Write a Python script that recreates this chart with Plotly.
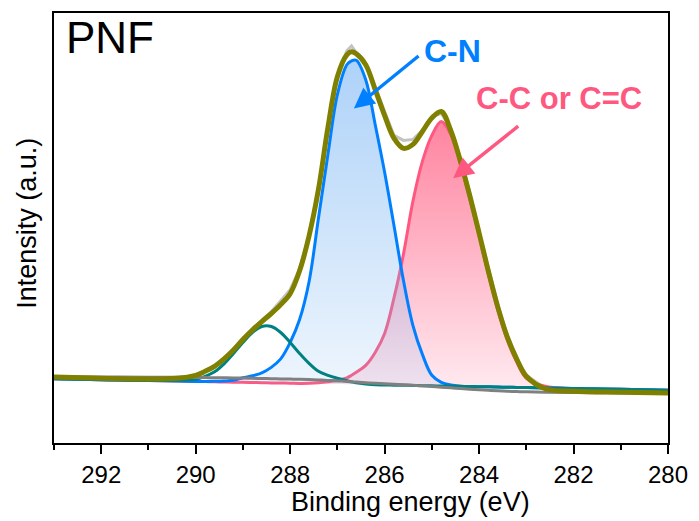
import plotly.graph_objects as go

# Binding energy grid (eV)
energy = [293, 292, 291, 290.4, 290, 289.8, 289.6, 289.4, 289.2, 289.0, 288.8, 288.6, 288.4,
          288.2, 288.0, 287.8, 287.6, 287.4, 287.2, 287.0, 286.8, 286.7, 286.6, 286.4, 286.2,
          286.0, 285.8, 285.6, 285.4, 285.2, 285.0, 284.8, 284.6, 284.4, 284.2, 284.0, 283.8,
          283.6, 283.4, 283.2, 283.0, 282.6, 282.0, 281, 280]

# Raw spectrum (a.u.)
raw = [66.5, 65.8, 64.0, 65.5, 68.0, 72.5, 77.5, 85, 94.5, 105, 114, 123, 132,
       143, 154, 175, 209, 254, 317, 369, 394, 399, 392, 381, 358,
       333, 309, 304, 305, 314, 328, 331, 316, 286, 252, 213, 174,
       138, 108, 85, 68, 55, 52.5, 51, 50.5]

# Fitted envelope
envelope = [66.3, 65.0, 64.3, 65.0, 68, 72, 77, 84.5, 93.5, 104, 113.5, 122, 130,
            139, 150, 173, 208, 255, 317, 368, 390, 393, 391, 380, 355,
            329, 306, 296, 300, 313, 326.5, 333, 314, 284, 249, 211, 172,
            136, 106, 84, 67, 54.5, 52, 51, 50.3]

# Shirley background
background = [66.5, 66.3, 66.0, 66.0, 65.8, 65.7, 65.6, 65.5, 65.4, 65.2, 65.0, 64.8, 64.6,
              64.4, 64.2, 64.0, 63.7, 63.3, 62.9, 62.4, 61.8, 61.5, 61.2, 60.6, 60.0,
              59.5, 59.0, 58.5, 58.0, 57.4, 56.8, 56.1, 55.4, 54.7, 54.0, 53.4, 52.9,
              52.4, 52.0, 51.7, 51.4, 51.0, 50.7, 50.5, 50.3]

# Component baseline
comp_base = [64.5, 63.6, 62.7, 62.2, 61.9, 61.7, 61.5, 61.3, 61.1, 61.0, 60.8, 60.6, 60.4,
             60.3, 60.1, 59.9, 59.7, 59.5, 59.4, 59.2, 59.0, 58.9, 58.8, 58.7, 58.5,
             58.3, 58.1, 58.0, 57.8, 57.6, 57.4, 57.2, 57.1, 56.9, 56.7, 56.5, 56.4,
             56.2, 56.0, 55.8, 55.7, 55.3, 54.8, 53.9, 53.0]

# C-N component
c_n = [64.5, 63.6, 62.7, 62.2, 61.9, 61.9, 62.0, 62.3, 63.0, 65.5, 67.5, 70.5, 76,
       84.5, 101, 124, 162, 226, 290, 350, 380, 384, 384.5, 365, 320,
       272, 218, 163, 118, 89, 68, 61, 58.3, 57.1, 56.7, 56.5, 56.4,
       56.2, 56.0, 55.8, 55.7, 55.3, 54.8, 53.9, 53.0]

# C-C / C=C component
c_c = [64.5, 63.6, 62.7, 62.2, 61.9, 61.7, 61.5, 61.3, 61.1, 61.0, 60.8, 60.6, 60.4,
       60.3, 60.1, 59.9, 60.0, 60.5, 61.5, 63, 65.5, 68, 71, 78, 91,
       110, 146, 190, 243, 283, 309, 323, 310, 281, 246, 208, 169,
       133, 103, 81, 65, 57, 54.8, 53.9, 53.0]

# O-C=O component
o_c_o = [64.5, 63.6, 62.7, 63, 64, 67, 71.5, 79.5, 90, 101, 111, 117, 117,
         111, 101, 90, 80, 72, 68, 65, 62.5, 61.5, 60.5, 59.3, 58.5,
         58.3, 58.1, 58.0, 57.8, 57.6, 57.4, 57.2, 57.1, 56.9, 56.7, 56.5, 56.4,
         56.2, 56.0, 55.8, 55.7, 55.3, 54.8, 53.9, 53.0]

tick_vals = [292, 290, 288, 286, 284, 282, 280]
tick_text = ["292", "290", "288", "286", "284", "282", "280"]
minor_vals = [293, 291, 289, 287, 285, 283, 281]

FONT = "Arial, Liberation Sans, sans-serif"

fig = go.Figure()

fig.add_trace(go.Scatter(x=energy, y=raw, mode="lines",
                         line=dict(color="rgb(195,195,195)", width=3), showlegend=False))

# pink fill
fig.add_trace(go.Scatter(x=energy + energy[::-1], y=c_c + comp_base[::-1], mode="lines",
                         fill="toself", line=dict(width=0, shape="spline"),
                         fillgradient=dict(type="vertical",
                                           colorscale=[[0, "rgb(255,234,240)"], [1, "rgb(255,132,160)"]]),
                         showlegend=False, hoverinfo="skip"))
fig.add_trace(go.Scatter(x=energy, y=c_c, mode="lines",
                         line=dict(color="rgb(255,88,128)", width=3, shape="spline"), showlegend=False))

# blue fill
fig.add_trace(go.Scatter(x=energy + energy[::-1], y=c_n + comp_base[::-1], mode="lines",
                         fill="toself", line=dict(width=0, shape="spline"),
                         fillgradient=dict(type="vertical",
                                           colorscale=[[0, "rgba(120,180,240,0.12)"], [1, "rgba(120,180,245,0.6)"]]),
                         showlegend=False, hoverinfo="skip"))
fig.add_trace(go.Scatter(x=energy, y=c_n, mode="lines",
                         line=dict(color="rgb(0,128,255)", width=3, shape="spline"), showlegend=False))

fig.add_trace(go.Scatter(x=energy, y=o_c_o, mode="lines",
                         line=dict(color="rgb(0,128,128)", width=3, shape="spline"), showlegend=False))

fig.add_trace(go.Scatter(x=energy, y=background, mode="lines",
                         line=dict(color="rgb(128,128,128)", width=3, shape="spline"), showlegend=False))

fig.add_trace(go.Scatter(x=energy, y=envelope, mode="lines",
                         line=dict(color="rgb(128,128,0)", width=5, shape="spline"), showlegend=False))

annotations = [
    dict(text="PNF", xref="paper", yref="paper", x=0.016, y=0.944, xanchor="left", yanchor="middle",
         showarrow=False, font=dict(family=FONT, size=44, color="black")),
    dict(text="<b>C-N</b>", xref="paper", yref="paper", x=0.649, y=0.911, xanchor="center", yanchor="middle",
         showarrow=False, font=dict(family=FONT, size=32, color="rgb(0,128,255)")),
    dict(text="<b>C-C or C=C</b>", xref="paper", yref="paper", x=0.823, y=0.802, xanchor="center",
         yanchor="middle", showarrow=False, font=dict(family=FONT, size=31, color="rgb(255,88,128)")),
    dict(text="", x=286.65, y=336, ax=285.25, ay=390, xref="x", yref="y", axref="x", ayref="y",
         showarrow=True, arrowhead=2, arrowsize=1.2, arrowwidth=3.4, arrowcolor="rgb(0,128,255)", standoff=0),
    dict(text="", x=284.55, y=266, ax=283.14, ay=319.5, xref="x", yref="y", axref="x", ayref="y",
         showarrow=True, arrowhead=2, arrowsize=1.2, arrowwidth=3.4, arrowcolor="rgb(255,88,128)", standoff=0),
    dict(text="Binding energy (eV)", xref="paper", yref="paper", x=0.58, y=-0.138, xanchor="center",
         yanchor="middle", showarrow=False, font=dict(family=FONT, size=27, color="black")),
    dict(text="Intensity (a.u.)", xref="paper", yref="paper", x=-0.044, y=0.512, xanchor="center",
         yanchor="middle", textangle=-90, showarrow=False, font=dict(family=FONT, size=27, color="black")),
]

fig.update_layout(
    width=699, height=521,
    margin=dict(l=54, r=28, t=11, b=78),
    paper_bgcolor="white", plot_bgcolor="white",
    annotations=annotations,
    xaxis=dict(range=[293, 280], tickvals=tick_vals, ticktext=tick_text, ticks="outside",
               ticklen=9, tickwidth=2, tickcolor="black", showline=True, linewidth=2,
               linecolor="black", mirror=True, showgrid=False, zeroline=False,
               tickfont=dict(family=FONT, size=24, color="black"),
               minor=dict(tickvals=minor_vals, ticks="outside", ticklen=5, tickwidth=2, tickcolor="black")),
    yaxis=dict(range=[0, 432], showticklabels=False, ticks="", showline=True, linewidth=2,
               linecolor="black", mirror=True, showgrid=False, zeroline=False),
)

fig.write_html("out.html",
               config={"displayModeBar": False},
               post_script="document.body.style.margin='0px';document.body.style.padding='0px';"
                           "document.body.style.overflow='hidden';")
